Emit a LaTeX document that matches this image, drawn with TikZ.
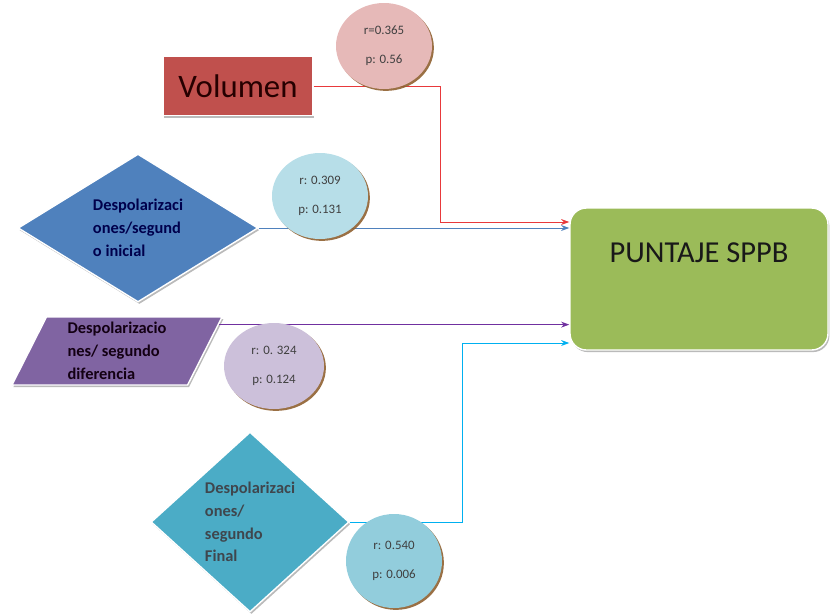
\documentclass[tikz,border=0pt]{standalone}
\usepackage{fontspec}
\setmainfont{Carlito}
\usetikzlibrary{shapes.geometric, arrows.meta, shadows, calc}

\definecolor{volrojo}{HTML}{C0504D}
\definecolor{rosa}{HTML}{E6B9B8}
\definecolor{azul}{HTML}{4F81BD}
\definecolor{celeste}{HTML}{B7DEE8}
\definecolor{morado}{HTML}{8064A2}
\definecolor{lila}{HTML}{CCC0DA}
\definecolor{turquesa}{HTML}{4BACC6}
\definecolor{aguamar}{HTML}{92CDDC}
\definecolor{verde}{HTML}{9BBB59}
\definecolor{linrojo}{HTML}{E8393B}
\definecolor{linmorado}{HTML}{7030A0}
\definecolor{lincian}{HTML}{00B0F0}

\tikzset{
  caja/.style={draw=white, line width=1.2pt,
    drop shadow={shadow xshift=1.2pt, shadow yshift=-1.8pt, fill=black!45, opacity=0.6}},
  burbuja/.style={ellipse, inner sep=0pt, align=center, text=black!75,
    font=\fontsize{11}{25}\selectfont,
    drop shadow={shadow xshift=1.6pt, shadow yshift=-1.6pt, fill=brown!75!black, opacity=0.9}},
  textodes/.style={align=left, inner sep=0pt, font=\fontsize{14}{19.5}\selectfont\bfseries},
  flecha/.style={-{Stealth[length=7pt,width=5pt]}, line width=0.7pt},
}

\begin{document}
\begin{tikzpicture}[x=0.3mm, y=-0.3mm]
\useasboundingbox (0,0) rectangle (833,615);

\node[caja, fill=volrojo, minimum width=4.5cm, minimum height=1.77cm,
  text=black!85!red, font=\fontsize{28}{30}\selectfont] (vol) at (238,86) {Volumen};

\node[caja, diamond, aspect=1.6, fill=azul, textodes, text=blue!30!black,
  minimum width=7.2cm, minimum height=4.44cm] (desini) at (138,228)
  {Despolarizaci\\ones/segund\\o inicial};

\node[caja, trapezium, trapezium left angle=59, trapezium right angle=121,
  trapezium stretches body, fill=morado, textodes, text=black!85!violet,
  minimum width=6.3cm, minimum height=2.04cm] (desdif) at (117,351)
  {Despolarizacio\\nes/ segundo\\diferencia};

\node[caja, diamond, fill=turquesa, textodes, text=black!80!cyan,
  minimum width=5.94cm, minimum height=5.4cm] (desfin) at (250,522)
  {Despolarizaci\\ones/\\segundo\\Final};

\node[caja, rounded corners=14pt, fill=verde, minimum width=7.74cm,
  minimum height=4.26cm, text=black!90, text depth=1.56cm,
  font=\fontsize{26}{30}\selectfont] (sppb) at (699,279) {PUNTAJE SPPB};

\coordinate (rk) at (440,222);
\coordinate (ck) at (462,343);
\coordinate (pv) at ($(desdif.top right corner)!0.12!(desdif.bottom right corner)$);

\draw[flecha, linrojo] (vol.east) -| (rk) -- (rk -| sppb.west);
\draw[flecha, azul] (desini.east) -- (desini.east -| sppb.west);
\draw[flecha, linmorado] (pv) -- (pv -| sppb.west);
\draw[flecha, lincian] (desfin.east) -| (ck) -- (ck -| sppb.west);

\node[burbuja, fill=rosa, minimum width=2.88cm, minimum height=2.58cm] (cvol) at (384,46)
  {r=0.365\\p: 0.56};
\node[burbuja, fill=celeste, minimum width=2.88cm, minimum height=2.58cm] (cini) at (320,196)
  {r: 0.309\\p: 0.131};
\node[burbuja, fill=lila, minimum width=3cm, minimum height=2.58cm] (cdif) at (274,366)
  {r: 0. 324\\p: 0.124};
\node[burbuja, fill=aguamar, minimum width=2.88cm, minimum height=2.82cm] (cfin) at (394,561)
  {r: 0.540\\p: 0.006};
\end{tikzpicture}
\end{document}
